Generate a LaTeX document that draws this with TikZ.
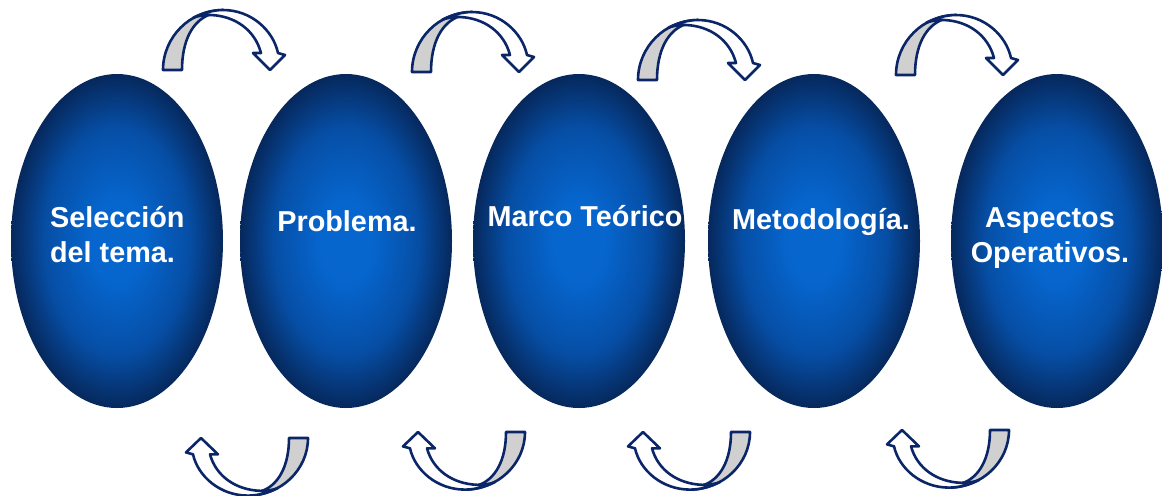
\documentclass[tikz,border=0pt]{standalone}
\usepackage{fontspec}
\setmainfont{Liberation Sans}
\usetikzlibrary{shapes.geometric}

\definecolor{ballcore}{RGB}{6,102,206}
\definecolor{ballmid}{RGB}{6,78,165}
\definecolor{ballrim}{RGB}{6,40,92}
\definecolor{bandline}{RGB}{10,38,104}
\definecolor{bandgray}{RGB}{208,208,208}

\pgfdeclareradialshading{ovalglow}{\pgfpoint{0bp}{0bp}}{color(0bp)=(ballcore); color(6bp)=(ballcore); color(17bp)=(ballmid); color(25bp)=(ballrim); color(50bp)=(ballrim)}

\tikzset{
  oval/.style={ellipse, minimum width=106pt, minimum height=167pt, inner sep=0pt, shading=ovalglow},
  caption/.style={text=white, font=\bfseries\fontsize{14.4}{17.5}\selectfont},
  grayband/.style={fill=bandgray, draw=bandline, line width=1.3pt, line join=round},
  whiteband/.style={fill=white, draw=bandline, line width=1.3pt, line join=round},
  turnover/.pic={
    \path[grayband] (0,0) -- (19,0) .. controls (19,-30) and (30,-50) .. (48,-56)
      -- (60,-60) .. controls (27,-60) and (0,-33) .. (0,0) -- cycle;
    \path[whiteband] (30,-52) .. controls (40,-57) and (50,-60) .. (60,-60)
      .. controls (88,-60) and (110,-40) .. (115,-17) -- (122,-15) -- (107,0) -- (90,-17) -- (98,-17)
      .. controls (92,-40) and (72,-54) .. (48,-55) .. controls (40,-55) and (34,-54) .. (30,-52) -- cycle;
  }
}

\begin{document}
\begin{tikzpicture}[x=0.5pt, y=-0.5pt]
  \useasboundingbox (0,0) rectangle (1162,495);
  \node[oval] (sel) at (117,241) {};
  \node[oval] (prob) at (346,241) {};
  \node[oval] (marco) at (579,241) {};
  \node[oval] (metod) at (814,241) {};
  \node[oval] (aspec) at (1057,241) {};

  \node[caption, align=left, anchor=base west] (sel-t) at (43,262) {Selección\\del tema.};
  \node[caption, anchor=base] (prob-t) at (347,231) {Problema.};
  \node[caption, anchor=base] (marco-t) at (585,226) {Marco Teórico};
  \node[caption, anchor=base] (metod-t) at (821,229) {Metodología.};
  \node[caption, align=center, anchor=base] (aspec-t) at (1050,262) {Aspectos\\Operativos.};

  \pic at (163,70) {turnover};
  \pic at (412,72) {turnover};
  \pic at (638,80) {turnover};
  \pic at (896,75) {turnover};
  \pic[rotate=180, yscale=0.96] at (308,438) {turnover};
  \pic[rotate=180, yscale=0.96] at (525,432) {turnover};
  \pic[rotate=180, yscale=0.96] at (750,432) {turnover};
  \pic[rotate=180, yscale=0.96] at (1009,430) {turnover};
\end{tikzpicture}
\end{document}
